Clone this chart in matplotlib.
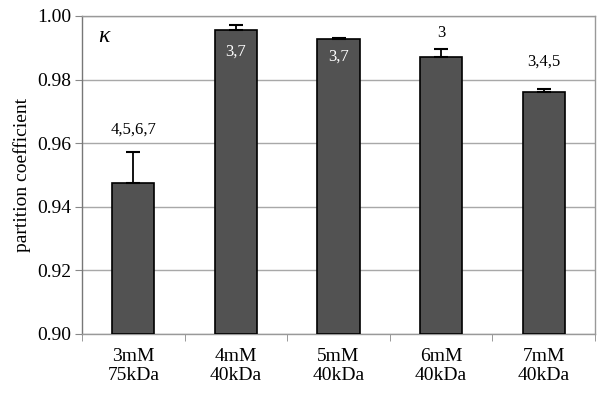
import matplotlib
matplotlib.use("Agg")
import matplotlib.pyplot as plt
import numpy as np

categories = ["3mM\n75kDa", "4mM\n40kDa", "5mM\n40kDa", "6mM\n40kDa", "7mM\n40kDa"]
values = [0.9475, 0.9956, 0.9928, 0.9872, 0.9760]
errors = [0.0097, 0.0016, 0.0004, 0.0025, 0.0011]
labels = ["4,5,6,7", "3,7", "3,7", "3", "3,4,5"]
label_inside = [False, True, True, False, False]
label_y = [0.9642, 0.9887, 0.9872, 0.9946, 0.9857]
yticks = [0.90, 0.92, 0.94, 0.96, 0.98, 1.00]

plt.rcParams['font.family'] = ['Liberation Serif', 'DejaVu Serif']

fig = plt.figure(figsize=(6.04, 3.93), dpi=100)
ax = fig.add_axes([82/604, 1-334/393, (595-82)/604, (334-16)/393])

x = np.arange(len(categories))
ax.bar(x, [v - 0.90 for v in values], bottom=0.90, width=0.41,
       color="#525252", edgecolor="black", linewidth=1.2, zorder=3)
ax.errorbar(x, values, yerr=[np.zeros(len(errors)), errors], fmt="none",
            ecolor="black", elinewidth=1.3, capsize=5, capthick=1.5, zorder=4)

for i, (lab, inside, ly) in enumerate(zip(labels, label_inside, label_y)):
    ax.text(x[i], ly, lab, ha="center", va="center",
            color="white" if inside else "black", fontsize=12, zorder=5)

ax.text(-0.29, 0.9937, "κ", ha="center", va="center", fontsize=17,
        fontstyle="italic")

ax.set_xlim(-0.5, len(categories) - 0.5)
ax.set_ylim(0.90, 1.00)
ax.set_yticks(yticks)
ax.set_yticklabels([f"{t:.2f}" for t in yticks], fontsize=14)
ax.yaxis.grid(True, color="#a8a8a8", linewidth=1.0, zorder=0)
ax.set_axisbelow(True)

ax.set_xticks(x)
ax.set_xticklabels(categories, fontsize=14, linespacing=1.15)
ax.tick_params(axis="x", length=0, pad=10)
ax.set_xticks(np.arange(-0.5, len(categories) + 0.5, 1.0), minor=True)
ax.tick_params(axis="x", which="minor", length=5, color="#888888", direction="out")
ax.tick_params(axis="y", length=5, color="#888888", direction="out", pad=3)

for side in ["left", "bottom", "top", "right"]:
    ax.spines[side].set_color("#999999")
    ax.spines[side].set_linewidth(1.0)
ax.spines["left"].set_color("#777777")

ax.set_ylabel("partition coefficient", fontsize=14, labelpad=4)

fig.savefig("out.png", dpi=100)
